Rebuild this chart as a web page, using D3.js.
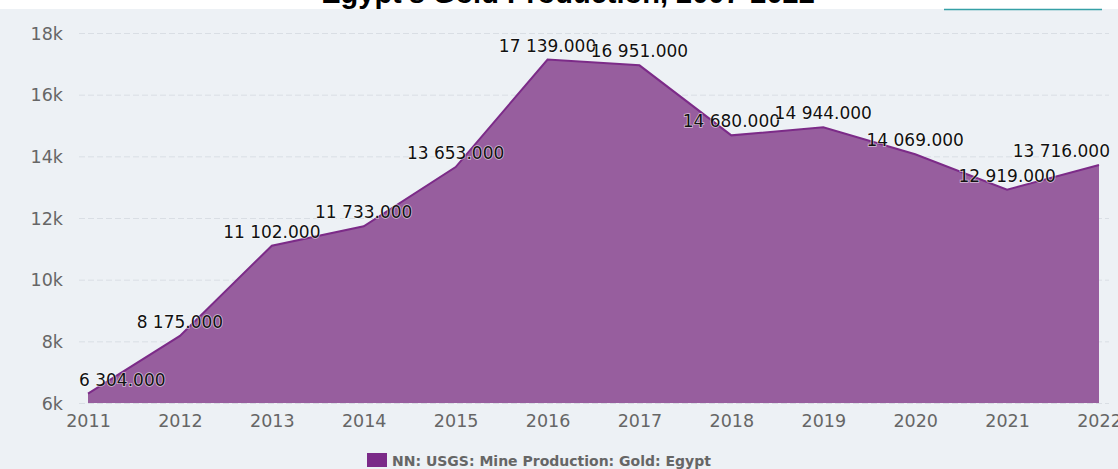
<!DOCTYPE html>
<html>
<head>
<meta charset="utf-8">
<script src="https://cdn.jsdelivr.net/npm/d3@7"></script>
<style>
  body { margin: 0; background: #fff; }
  svg { display: block; }
</style>
</head>
<body>
<svg id="chart" width="1118" height="469"></svg>
<script>
// data
var years = [2011, 2012, 2013, 2014, 2015, 2016, 2017, 2018, 2019, 2020, 2021, 2022];
var production = [6304, 8175, 11102, 11733, 13653, 17139, 16951, 14680, 14944, 14069, 12919, 13716];
var yTicks = [6000, 8000, 10000, 12000, 14000, 16000, 18000];
var title = "Egypt's Gold Production, 2007-2022";
var seriesName = "NN: USGS: Mine Production: Gold: Egypt";

var data = years.map(function (y, i) {
  return { year: y, value: production[i] };
});

var svg = d3.select("#chart");

// background
svg.append("rect")
  .attr("x", 0).attr("y", 9)
  .attr("width", 1118).attr("height", 460)
  .attr("fill", "#edf1f5");

// title, mostly cut off at the top
svg.append("text")
  .attr("x", 568)
  .attr("y", 3)
  .attr("text-anchor", "middle")
  .style("font-family", "'Liberation Sans', Arial, sans-serif")
  .style("font-weight", "bold")
  .style("font-size", "29px")
  .attr("fill", "#000")
  .text(title);

svg.append("rect")
  .attr("x", 0).attr("y", 9)
  .attr("width", 1118).attr("height", 2)
  .attr("fill", "#edf1f5");

// button edge at top right
svg.append("line")
  .attr("x1", 944).attr("x2", 1102)
  .attr("y1", 9.5).attr("y2", 9.5)
  .attr("stroke", "#35a0a6")
  .attr("stroke-width", 1.5);

var x = d3.scaleLinear().domain([2011, 2022]).range([88, 1099]);
var y = d3.scaleLinear().domain([6000, 18000]).range([403, 33]);

var plotLeft = 79, plotRight = 1110;

// grid lines
svg.append("g")
  .selectAll("line")
  .data(yTicks)
  .enter()
  .append("line")
  .attr("x1", plotLeft)
  .attr("x2", 1109)
  .attr("y1", function (d) { return y(d) + 0.5; })
  .attr("y2", function (d) { return y(d) + 0.5; })
  .attr("stroke", "#d9dee4")
  .attr("stroke-width", 1)
  .attr("stroke-dasharray", "6,3");

// y axis labels
var yAxis = d3.axisLeft(y)
  .tickValues(yTicks)
  .tickSize(0)
  .tickPadding(0)
  .tickFormat(function (d) { return d / 1000 + "k"; });

var gy = svg.append("g")
  .attr("transform", "translate(63,0)")
  .call(yAxis);
gy.select(".domain").remove();
gy.selectAll("text")
  .attr("dy", "0.36em")
  .style("font-family", "'DejaVu Sans', sans-serif")
  .style("font-size", "17.5px")
  .attr("fill", "#666");

// x axis labels
var xAxis = d3.axisBottom(x)
  .tickValues(years)
  .tickSize(0)
  .tickPadding(0)
  .tickFormat(d3.format("d"));

var gx = svg.append("g")
  .attr("transform", "translate(0,413)")
  .call(xAxis);
gx.select(".domain").remove();
gx.selectAll("text")
  .attr("dy", "0.8em")
  .style("font-family", "'DejaVu Sans', sans-serif")
  .style("font-size", "17.5px")
  .attr("fill", "#666");

// area
var area = d3.area()
  .x(function (d) { return x(d.year); })
  .y0(y(6000))
  .y1(function (d) { return y(d.value); });

var line = d3.line()
  .x(function (d) { return x(d.year); })
  .y(function (d) { return y(d.value); });

svg.append("path")
  .datum(data)
  .attr("d", area)
  .attr("fill", "#975e9e");

svg.append("path")
  .datum(data)
  .attr("d", line)
  .attr("fill", "none")
  .attr("stroke", "#7c2b88")
  .attr("stroke-width", 2);

// data labels
var fmt = function (v) {
  return d3.format(",.3f")(v).replace(/,/g, " ");
};

var labels = svg.append("g")
  .selectAll("text")
  .data(data)
  .enter()
  .append("text")
  .attr("y", function (d) { return y(d.value) - 8; })
  .attr("text-anchor", "middle")
  .style("font-family", "'DejaVu Sans', sans-serif")
  .style("font-size", "17px")
  .style("paint-order", "stroke")
  .attr("stroke", "#fff")
  .attr("stroke-width", 1.5)
  .attr("stroke-opacity", 0.6)
  .attr("fill", "#111")
  .text(function (d) { return fmt(d.value); });

labels.attr("x", function (d) {
  var w = this.getComputedTextLength();
  var cx = x(d.year);
  return Math.max(plotLeft + w / 2, Math.min(plotRight - w / 2, cx));
});

// legend
var legend = svg.append("g");
legend.append("rect")
  .attr("x", 367).attr("y", 453)
  .attr("width", 20).attr("height", 14)
  .attr("fill", "#7b2a88");
legend.append("text")
  .attr("x", 392)
  .attr("y", 466)
  .style("font-family", "'DejaVu Sans', sans-serif")
  .style("font-weight", "bold")
  .style("font-size", "14px")
  .attr("fill", "#666")
  .text(seriesName);
</script>
</body>
</html>
